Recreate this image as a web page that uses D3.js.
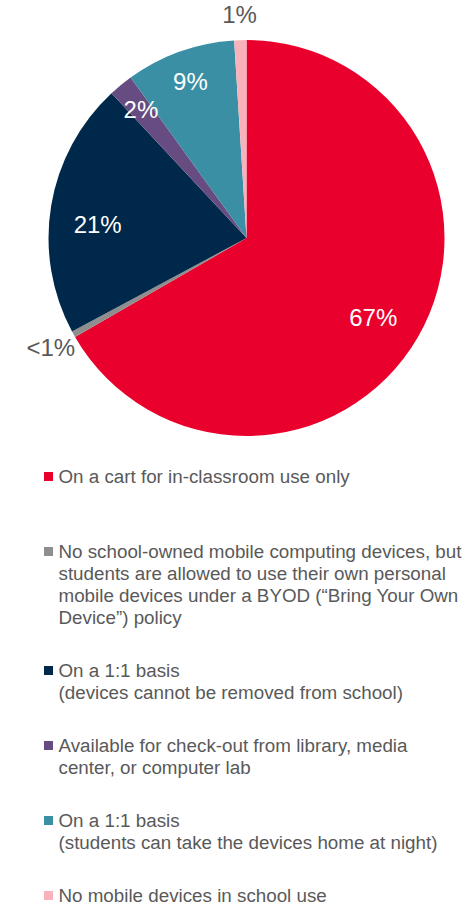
<!DOCTYPE html>
<html>
<head>
<meta charset="utf-8">
<script src="https://cdn.jsdelivr.net/npm/d3@7"></script>
<style>
  body { margin: 0; background: #fff; }
  svg { display: block; font-family: "Liberation Sans", Arial, sans-serif; }
</style>
</head>
<body>
<svg width="476" height="906"></svg>
<script>
// data, clockwise from 12 o'clock
const labels = ["67%", "<1%", "21%", "2%", "9%", "1%"];
const values = [67, 0.5, 21, 2, 9, 1];
const colors = ["#E9002C", "#8E8E8E", "#00284A", "#664C80", "#3A8FA4", "#F7B2BC"];
const legendLines = [
  ["On a cart for in-classroom use only"],
  ["No school-owned mobile computing devices, but",
   "students are allowed to use their own personal",
   "mobile devices under a BYOD (\u201CBring Your Own",
   "Device\u201D) policy"],
  ["On a 1:1 basis", "(devices cannot be removed from school)"],
  ["Available for check-out from library, media", "center, or computer lab"],
  ["On a 1:1 basis", "(students can take the devices home at night)"],
  ["No mobile devices in school use"],
];
const outside = [false, true, false, false, false, true];

const svg = d3.select("svg");
const cx = 246.5, cy = 238, r = 198;

const pie = d3.pie().sort(null).value((d) => d);
const arcs = pie(values);
const arc = d3.arc().innerRadius(0).outerRadius(r);

const g = svg.append("g").attr("transform", `translate(${cx},${cy})`);

g.selectAll("path")
  .data(arcs)
  .join("path")
  .attr("d", arc)
  .attr("fill", (d, i) => colors[i]);

// slice labels (big slices nudged a little toward the horizontal, like the original)
const total = d3.sum(values);
g.selectAll("text")
  .data(arcs)
  .join("text")
  .attr("transform", (d, i) => {
    const share = values[i] / total;
    const lr = outside[i] ? r + 26 : share > 0.15 ? r * 0.755 : r * 0.84;
    let a = (d.startAngle + d.endAngle) / 2;
    if (share > 0.15) a += a < Math.PI ? 0.035 : -0.07;
    return `translate(${Math.sin(a) * lr},${-Math.cos(a) * lr})`;
  })
  .attr("text-anchor", "middle")
  .attr("dy", "0.36em")
  .attr("font-size", 24)
  .attr("fill", (d, i) => (outside[i] ? "#595959" : "#fff"))
  .text((d, i) => labels[i]);

// legend
const lineH = 22, gap = 31;
let y = 483;
const legend = svg.append("g");
legendLines.forEach((lines, i) => {
  const item = legend.append("g");
  item.append("rect")
    .attr("x", 44).attr("y", y - 11)
    .attr("width", 9).attr("height", 9)
    .attr("fill", colors[i]);
  item.selectAll("text")
    .data(lines)
    .join("text")
    .attr("x", 58.5)
    .attr("y", (d, j) => y + j * lineH)
    .attr("font-size", 18.8)
    .attr("fill", "#595959")
    .text((d) => d);
  y += Math.max(lines.length, 2) * lineH + gap;
});
</script>
</body>
</html>
